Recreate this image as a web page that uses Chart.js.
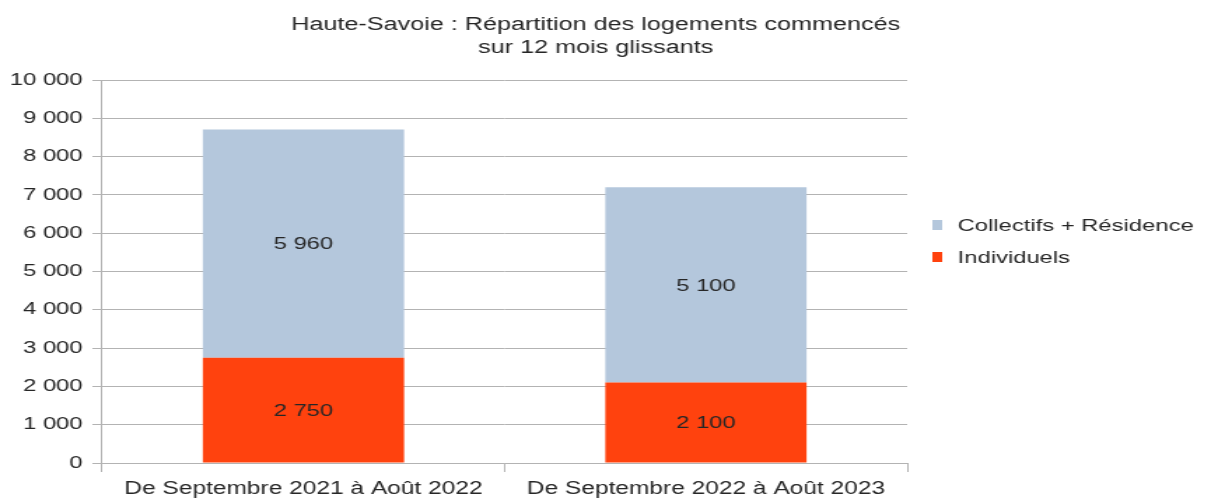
<!DOCTYPE html>
<html>
<head>
<meta charset="utf-8">
<script src="https://cdn.jsdelivr.net/npm/chart.js@4.4.0/dist/chart.umd.min.js"></script>
<style>
  html, body { margin: 0; padding: 0; background: #fff; overflow: hidden; }
  #wrap { width: 1219px; height: 503px; overflow: hidden; }
  /* the original picture is stretched sideways, so the canvas is too */
  #myChart { display: block; transform: scaleX(1.4); transform-origin: 0 0; }
</style>
</head>
<body>
<div id="wrap"><canvas id="myChart" width="871" height="503"></canvas></div>
<script>
// chart data
const periods = ['De Septembre 2021 à Août 2022', 'De Septembre 2022 à Août 2023'];
const individuels = [2750, 2100];
const collectifs = [5960, 5100];
const titleLines = ['Haute-Savoie : Répartition des logements commencés', 'sur 12 mois glissants'];

const fmt = (v) => String(v).replace(/\B(?=(\d{3})+(?!\d))/g, ' ');
const FONT = "'Liberation Sans', Arial, sans-serif";
const TEXT = '#262626';

// two line title, slightly left of the canvas centre
const titlePlugin = {
  id: 'plotTitle',
  afterDraw(chart) {
    const ctx = chart.ctx;
    const cx = chart.width / 2 - 10;
    ctx.save();
    ctx.font = '18px ' + FONT;
    ctx.fillStyle = TEXT;
    ctx.textAlign = 'center';
    ctx.textBaseline = 'alphabetic';
    ctx.fillText(titleLines[0], cx, 30);
    ctx.fillText(titleLines[1], cx, 53);
    ctx.restore();
  }
};

// values in the middle of each bar segment
const valueLabels = {
  id: 'valueLabels',
  afterDatasetsDraw(chart) {
    const ctx = chart.ctx;
    ctx.save();
    ctx.font = '17px ' + FONT;
    ctx.fillStyle = TEXT;
    ctx.textAlign = 'center';
    ctx.textBaseline = 'middle';
    chart.data.datasets.forEach((ds, i) => {
      chart.getDatasetMeta(i).data.forEach((bar, j) => {
        ctx.fillText(fmt(ds.data[j]), bar.x, (bar.y + bar.base) / 2 + 1);
      });
    });
    ctx.restore();
  }
};

// legend on the right, top entry = top series
const sideLegend = {
  id: 'sideLegend',
  afterDraw(chart) {
    const ctx = chart.ctx;
    const x = chart.chartArea.right + 18;
    const rows = chart.data.datasets.slice().reverse();
    ctx.save();
    ctx.font = '17px ' + FONT;
    ctx.textBaseline = 'middle';
    ctx.textAlign = 'left';
    rows.forEach((ds, k) => {
      const y = 225 + k * 32;
      ctx.fillStyle = ds.backgroundColor;
      ctx.fillRect(x, y - 5, 7, 10);
      ctx.fillStyle = TEXT;
      ctx.fillText(ds.label, x + 18, y + 1);
    });
    ctx.restore();
  }
};

new Chart(document.getElementById('myChart'), {
  type: 'bar',
  data: {
    labels: periods,
    datasets: [
      {
        label: 'Individuels',
        data: individuels,
        backgroundColor: '#ff420e',
        categoryPercentage: 1,
        barPercentage: 0.5
      },
      {
        label: 'Collectifs + Résidence',
        data: collectifs,
        backgroundColor: '#b4c7dc',
        categoryPercentage: 1,
        barPercentage: 0.5
      }
    ]
  },
  options: {
    responsive: false,
    animation: false,
    layout: { padding: { top: 80, left: 0, right: 223, bottom: -4 } },
    plugins: {
      title: { display: false },
      legend: { display: false },
      tooltip: { enabled: false }
    },
    scales: {
      x: {
        stacked: true,
        grid: { display: true, drawOnChartArea: false, offset: true, tickLength: 9, color: '#b3b3b3' },
        border: { color: '#b3b3b3' },
        ticks: { color: TEXT, font: { family: FONT, size: 17.5 }, padding: 7, maxRotation: 0 }
      },
      y: {
        stacked: true,
        min: 0,
        max: 10000,
        grid: { color: '#b3b3b3', tickLength: 7 },
        border: { color: '#b3b3b3' },
        ticks: {
          stepSize: 1000,
          color: TEXT,
          font: { family: FONT, size: 17 },
          padding: 7,
          callback: (v) => fmt(v)
        }
      }
    }
  },
  plugins: [titlePlugin, valueLabels, sideLegend]
});
</script>
</body>
</html>
